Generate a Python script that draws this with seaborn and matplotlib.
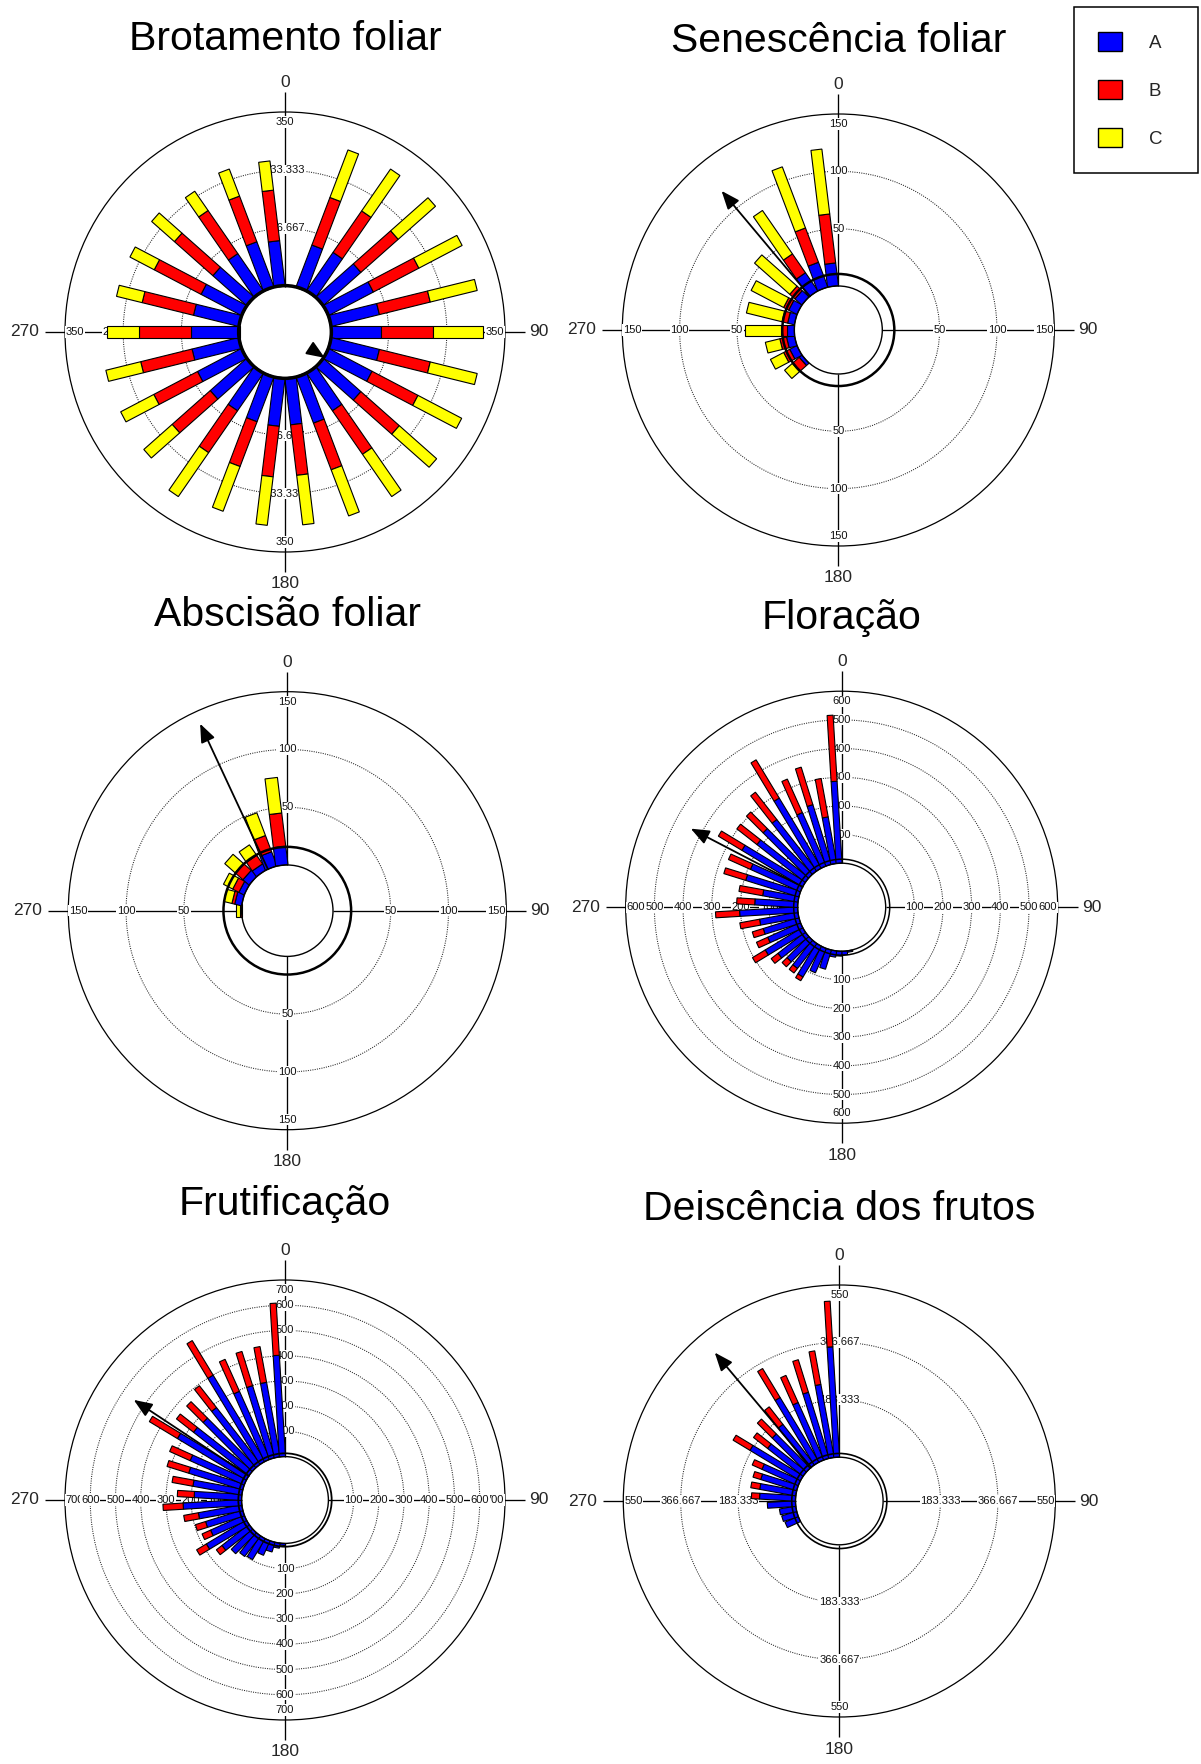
import numpy as np
import pandas as pd
import matplotlib
matplotlib.use("Agg")
import matplotlib.pyplot as plt
import seaborn as sns
from matplotlib.patches import Circle, Rectangle, Patch
from matplotlib.transforms import Affine2D

sns.set_theme(style="white")
plt.rcParams["font.family"] = ["Liberation Sans", "DejaVu Sans"]

# ---------------------------------------------------------------- data
series_names = ["A", "B", "C"]
series_colors = ["#0000FF", "#FF0000", "#FFFF00"]

# Brotamento foliar (26 bins)
brot_A = [0, 91, 95, 102, 103, 101, 102, 101, 100, 102, 93, 100, 95,
          98, 97, 93, 99, 101, 98, 98, 95, 93, 92, 92, 98, 92]
brot_B = [0, 102, 101, 100, 103, 105, 103, 105, 104, 103, 106, 100, 102,
          102, 96, 102, 102, 99, 106, 103, 106, 106, 103, 105, 98, 102]
brot_C = [0, 102, 102, 100, 98, 97, 100, 97, 99, 100, 103, 99, 100,
          98, 96, 107, 76, 75, 72, 65, 53, 55, 61, 47, 58, 59]
brot_rings = [116.667, 233.333, 350]
brot_ring_labels = ["116.667", "233.333", "350"]

# Senescencia foliar (26 bins)
sen_A = [0, 0, 0, 0, 0, 0, 0, 0, 0, 0, 0, 0, 0,
         0, 0, 0, 3, 7, 7, 6, 6, 8, 8, 19, 23, 20]
sen_B = [0, 0, 0, 0, 0, 0, 0, 0, 0, 0, 0, 0, 0,
         0, 0, 0, 8, 6, 6, 6, 5, 5, 6, 20, 32, 43]
sen_C = [0, 0, 0, 0, 0, 0, 0, 0, 0, 0, 0, 0, 0,
         0, 0, 0, 9, 13, 13, 31, 32, 32, 41, 46, 57, 57]
sen_rings = [50, 100, 150]
sen_ring_labels = ["50", "100", "150"]

# Abscisao foliar (26 bins)
abs_A = [0, 0, 0, 0, 0, 0, 0, 0, 0, 0, 0, 0, 0,
         0, 0, 0, 0, 0, 0, 0, 6, 5, 7, 6, 13, 16]
abs_B = [0, 0, 0, 0, 0, 0, 0, 0, 0, 0, 0, 0, 0,
         0, 0, 0, 0, 0, 0, 1, 2.5, 6, 9, 9, 15, 29]
abs_C = [0, 0, 0, 0, 0, 0, 0, 0, 0, 0, 0, 0, 0,
         0, 0, 0, 0, 0, 0, 3.5, 7, 9, 12, 11, 21, 31]
abs_rings = [50, 100, 150]
abs_ring_labels = ["50", "100", "150"]

# Floracao (52 bins)
flo_A = [0, 0, 0, 0, 0, 0, 0, 0, 0, 0, 0, 0, 0,
         0, 0, 0, 0, 0, 0, 0, 0, 0, 0, 0, 5, 13,
         17, 22, 70, 93, 125, 110, 106, 121, 152, 125, 130, 136, 203,
         150, 125, 194, 191, 247, 214, 224, 227, 285, 204, 218, 165, 286]
flo_B = [0, 0, 0, 0, 0, 0, 0, 0, 0, 0, 0, 0, 0,
         0, 0, 0, 0, 0, 0, 0, 0, 0, 0, 0, 0, 0,
         0, 0, 0, 0, 15, 20, 24, 30, 52, 43, 40, 70, 84,
         63, 84, 80, 84, 96, 89, 82, 121, 156, 128, 137, 136, 231]
flo_C = [0] * 52
flo_rings = [100, 200, 300, 400, 500, 600]
flo_ring_labels = ["100", "200", "300", "400", "500", "600"]

# Frutificacao (52 bins)
fru_A = [0, 0, 0, 0, 0, 0, 0, 0, 0, 0, 0, 0, 0,
         0, 0, 0, 0, 0, 0, 0, 0, 0, 0, 0, 0, 0,
         8, 20, 40, 63, 97, 103, 117, 136, 185, 146, 154, 175, 232,
         188, 197, 224, 235, 319, 279, 275, 284, 399, 295, 299, 300, 402]
fru_B = [0, 0, 0, 0, 0, 0, 0, 0, 0, 0, 0, 0, 0,
         0, 0, 0, 0, 0, 0, 0, 0, 0, 0, 0, 0, 0,
         0, 0, 0, 0, 0, 0, 0, 28, 45, 37, 42, 59, 80,
         67, 84, 90, 89, 130, 86, 92, 110, 160, 139, 142, 144, 207]
fru_C = [0] * 52
fru_rings = [100, 200, 300, 400, 500, 600, 700]
fru_ring_labels = ["100", "200", "300", "400", "500", "600", "700"]

# Deiscencia dos frutos (52 bins)
dei_A = [0, 0, 0, 0, 0, 0, 0, 0, 0, 0, 0, 0, 0,
         0, 0, 0, 0, 0, 0, 0, 0, 0, 0, 0, 0, 0,
         0, 0, 0, 0, 0, 0, 0, 0, 0, 46, 50, 53, 90,
         115, 117, 120, 127, 188, 144, 154, 164, 241, 201, 221, 237, 353]
dei_B = [0, 0, 0, 0, 0, 0, 0, 0, 0, 0, 0, 0, 0,
         0, 0, 0, 0, 0, 0, 0, 0, 0, 0, 0, 0, 0,
         0, 0, 0, 0, 0, 0, 0, 0, 0, 0, 0, 0, 0,
         26, 29, 26, 34, 63, 57, 67, 71, 108, 95, 109, 109, 146]
dei_C = [0] * 52
dei_rings = [183.333, 366.667, 550]
dei_ring_labels = ["183.333", "366.667", "550"]

# mean vector (direction in degrees, length in count units)
mean_dir = [123, 320, 335, 297.5, 303.5, 320]
mean_len = [4, 120, 139, 440, 547, 479]
# confidence circle offset beyond the hole, in count units
conf_r = [3, 10.5, 15.7, 14, 13, 12]

titles = ["Brotamento foliar", "Senescência foliar", "Abscisão foliar",
          "Floração", "Frutificação", "Deiscência dos frutos"]

# ---------------------------------------------------------------- layout
W, HGT, DPI = 1201, 1764, 100
panels = [
    dict(series=[brot_A, brot_B, brot_C], rings=brot_rings, labels=brot_ring_labels,
         center=(285, 332), rpx=220, hole_px=45.5, bar_px=11.4, hole_lw=1.3, conf_lw=1.6,
         title_y=50.5),
    dict(series=[sen_A, sen_B, sen_C], rings=sen_rings, labels=sen_ring_labels,
         center=(838.3, 330), rpx=216, hole_px=44, bar_px=11.0, hole_lw=1.0, conf_lw=1.8,
         title_y=52.5),
    dict(series=[abs_A, abs_B, abs_C], rings=abs_rings, labels=abs_ring_labels,
         center=(287.3, 910.7), rpx=219, hole_px=45.7, bar_px=12.5, hole_lw=1.0, conf_lw=1.8,
         title_y=626),
    dict(series=[flo_A, flo_B, flo_C], rings=flo_rings, labels=flo_ring_labels,
         center=(841.7, 907.2), rpx=216, hole_px=44, bar_px=6.0, hole_lw=1.0, conf_lw=1.1,
         title_y=629),
    dict(series=[fru_A, fru_B, fru_C], rings=fru_rings, labels=fru_ring_labels,
         center=(285, 1500), rpx=220, hole_px=43.4, bar_px=6.2, hole_lw=1.0, conf_lw=1.3,
         title_y=1215),
    dict(series=[dei_A, dei_B, dei_C], rings=dei_rings, labels=dei_ring_labels,
         center=(839.3, 1501), rpx=216, hole_px=43.8, bar_px=5.8, hole_lw=1.0, conf_lw=1.2,
         title_y=1220),
]

fig = plt.figure(figsize=(W / DPI, HGT / DPI), dpi=DPI)
fig.patch.set_facecolor("white")


def polar_xy(r, deg):
    t = np.deg2rad(deg)
    return r * np.sin(t), r * np.cos(t)


def draw_panel(idx, p):
    cx, cy = p["center"]
    rpx = p["rpx"]
    ax = fig.add_axes([(cx - rpx) / W, 1 - (cy + rpx) / HGT, 2 * rpx / W, 2 * rpx / HGT])
    ax.set_autoscale_on(False)
    rmax = p["rings"][-1]
    hole = rmax * p["hole_px"] / (rpx - p["hole_px"])
    ext = rmax + hole
    upx = ext / rpx
    ax.set_xlim(-ext, ext)
    ax.set_ylim(-ext, ext)
    ax.set_aspect("equal")
    ax.axis("off")

    # grid rings
    for v in p["rings"][:-1]:
        ax.add_patch(Circle((0, 0), hole + v, fill=False, ls=(0, (1, 1.2)), lw=0.75,
                            ec="0.15", zorder=1))
    ax.add_patch(Circle((0, 0), ext, fill=False, lw=0.9, ec="black", zorder=1, clip_on=False))

    # cross axes
    for ang in (0, 90, 180, 270):
        x0, y0 = polar_xy(hole, ang)
        x1, y1 = polar_xy(ext + 20 * upx, ang)
        ax.plot([x0, x1], [y0, y1], color="black", lw=0.95, zorder=2,
                clip_on=False, solid_capstyle="butt")

    # radial scale labels, outermost first
    order = sorted(zip(p["rings"], p["labels"]), reverse=True)
    for i, (v, lab) in enumerate(order):
        r = hole + v
        if v == rmax:
            r -= 10 * upx
        for ang in (0, 90, 180, 270):
            x, y = polar_xy(r, ang)
            ax.text(x, y, lab, ha="center", va="center", fontsize=8.0, color="#111111",
                    zorder=2.3 + 0.01 * i,
                    bbox=dict(boxstyle="square,pad=0.05", fc="white", ec="none"))

    # stacked bars
    series = p["series"]
    nb = len(series[0])
    step = 360.0 / nb
    width = p["bar_px"] * upx
    df = pd.DataFrame({name: vals for name, vals in zip(series_names, series)})
    df["angle"] = (np.arange(nb) + 0.5) * step
    for _, row in df.iterrows():
        tr = Affine2D().rotate_deg(-row["angle"]) + ax.transData
        bottom = hole
        for name, col in zip(series_names, series_colors):
            v = row[name]
            if v > 0:
                ax.bar(0, v, width=width, bottom=bottom, color=col, edgecolor="black",
                       linewidth=0.8, transform=tr, zorder=3)
            bottom += v

    # hole and confidence circles
    ax.add_patch(Circle((0, 0), hole, fill=False, lw=p["hole_lw"], ec="black", zorder=4))
    ax.add_patch(Circle((0, 0), hole + conf_r[idx], fill=False, lw=p["conf_lw"],
                        ec="black", zorder=4))

    # mean vector
    xa, ya = polar_xy(hole, mean_dir[idx])
    xb, yb = polar_xy(hole + mean_len[idx], mean_dir[idx])
    ax.annotate("", xy=(xb, yb), xytext=(xa, ya), zorder=5,
                arrowprops=dict(arrowstyle="-|>,head_length=0.8,head_width=0.32",
                                mutation_scale=14, lw=1.3, color="black",
                                shrinkA=0, shrinkB=0))

    # direction labels
    fs = 12.5
    ax.text(0, ext + 22 * upx, "0", ha="center", va="bottom", fontsize=fs, clip_on=False)
    ax.text(ext + 24 * upx, 0, "90", ha="left", va="center", fontsize=fs, clip_on=False)
    ax.text(0, -(ext + 24.5 * upx), "180", ha="center", va="top", fontsize=fs, clip_on=False)
    ax.text(-(ext + 26 * upx), 0, "270", ha="right", va="center", fontsize=fs, clip_on=False)

    fig.text(cx / W, 1 - p["title_y"] / HGT, titles[idx], ha="center", va="baseline",
             fontsize=29.5, color="black",
             bbox=dict(boxstyle="square,pad=0.0", fc="white", ec="none"))


for i, p in enumerate(panels):
    draw_panel(i, p)

# legend
handles = [Patch(facecolor=c, edgecolor="black", linewidth=1.0, label=n)
           for n, c in zip(series_names, series_colors)]
fig.legend(handles=handles, loc="upper left", bbox_to_anchor=(1098 / W, 1 - 32 / HGT),
           frameon=False, fontsize=13.5, handlelength=1.28, handleheight=1.17,
           labelspacing=1.51, handletextpad=1.42, borderpad=0, borderaxespad=0)
fig.add_artist(Rectangle((1074 / W, 1 - 173 / HGT), 124 / W, 166 / HGT,
                         transform=fig.transFigure, fill=False, lw=1.1, ec="black"))

fig.savefig("out.png", dpi=DPI)
